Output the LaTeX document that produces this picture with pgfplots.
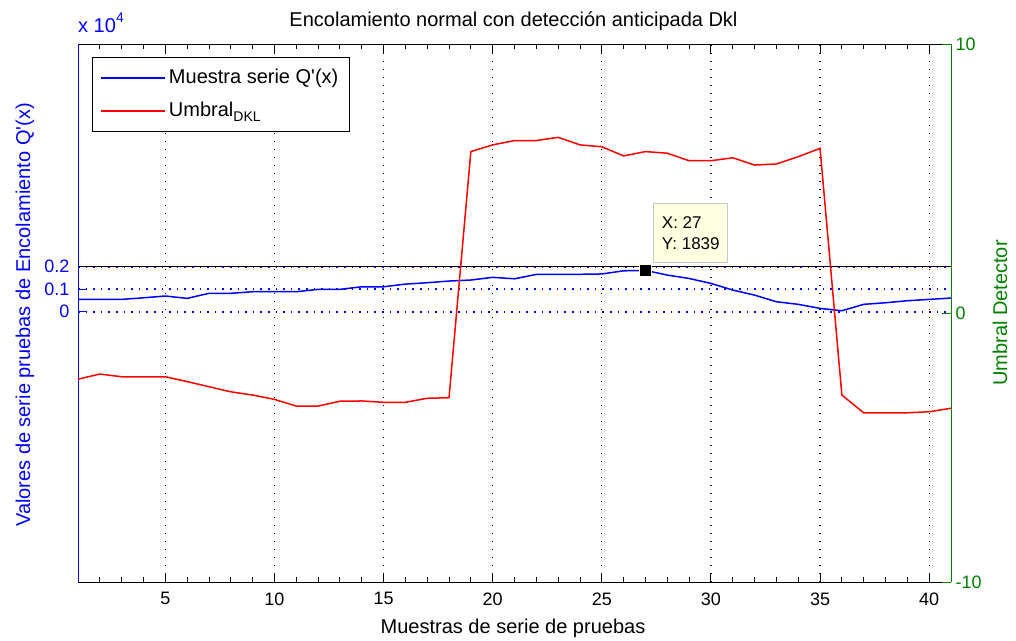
\documentclass[border=0pt]{standalone}
\usepackage{pgfplots}
\pgfplotsset{compat=1.18}
\usepackage{fontspec}
\setmainfont{Liberation Sans}[Ligatures=TeXOff]
\definecolor{mgreen}{RGB}{0,128,0}
\definecolor{tipfill}{RGB}{255,255,225}
\definecolor{tipdraw}{RGB}{200,200,200}
\pgfplotstableread{
x q
1 550
2 550
3 550
4 620
5 700
6 595
7 820
8 820
9 890
10 890
11 890
12 995
13 995
14 1110
15 1110
16 1230
17 1290
18 1365
19 1410
20 1530
21 1465
22 1660
23 1660
24 1665
25 1680
26 1820
27 1839
28 1630
29 1480
30 1260
31 965
32 740
33 445
34 330
35 150
36 45
37 330
38 400
39 490
40 550
41 610
}\qdata
\pgfplotstableread{
x u
1 -2.46
2 -2.27
3 -2.37
4 -2.37
5 -2.37
6 -2.55
7 -2.74
8 -2.93
9 -3.05
10 -3.21
11 -3.46
12 -3.46
13 -3.28
14 -3.27
15 -3.32
16 -3.32
17 -3.17
18 -3.15
19 6.00
20 6.25
21 6.41
22 6.41
23 6.53
24 6.25
25 6.18
26 5.84
27 6.00
28 5.94
29 5.66
30 5.66
31 5.77
32 5.50
33 5.54
34 5.81
35 6.12
36 -3.05
37 -3.71
38 -3.71
39 -3.71
40 -3.67
41 -3.54
}\udata
\begin{document}
\begin{tikzpicture}[x=1pt,y=1pt]
\useasboundingbox (0,0) rectangle (1016,640);
\begin{axis}[
  at={(78pt,58pt)}, anchor=south west,
  scale only axis, width=873pt, height=538pt,
  xmin=1, xmax=41, ymin=-12010, ymax=11900,
  scaled y ticks=false, scaled x ticks=false,
  axis x line*=box, axis y line*=left,
  x axis line style={black, line width=0.9pt},
  y axis line style={blue, line width=0.9pt},
  tick align=inside,
  xtick={5,10,...,40}, minor xtick={1,...,41},
  major tick length=9pt, minor tick length=5pt,
  ytick={0,1000,2000}, yticklabels={0,0.1,0.2},
  yticklabel style={text=blue, xshift=-5pt},
  xticklabel style={yshift=-7pt},
  y tick style={blue, line width=0.9pt},
  x tick style={black, line width=0.9pt},
  xmajorgrids, ymajorgrids,
  x grid style={black, line width=1.3pt, dash pattern=on 1.3pt off 6.7pt},
  y grid style={blue, line width=1.6pt, dash pattern=on 1.6pt off 6pt},
  tick label style={font=\fontsize{18}{21}\selectfont},
  /pgf/number format/assume math mode=true,
]
\addplot[black, line width=1.2pt] coordinates {(1,2000) (41,2000)};
\addplot[blue, line width=1.5pt] table[x=x, y=q] {\qdata};
\addplot[only marks, mark=square*, mark size=6pt, mark options={fill=black, draw=tipfill, line width=1pt}] coordinates {(27,1839)};
\node[draw=tipdraw, line width=1pt, fill=tipfill, anchor=south west, align=left,
      font=\fontsize{17}{21}\selectfont, inner xsep=8pt, inner ysep=13pt,
      xshift=8pt, yshift=7pt] at (axis cs:27,1839) {X: 27\\Y: 1839};
\end{axis}
\begin{axis}[
  at={(78pt,58pt)}, anchor=south west,
  scale only axis, width=873pt, height=538pt,
  xmin=1, xmax=41, ymin=-10, ymax=10,
  axis x line=none, axis y line*=right,
  y axis line style={mgreen, line width=0.9pt},
  tick align=inside, major tick length=9pt,
  ytick={-10,0,10}, yticklabels={-10,0,10},
  yticklabel style={text=mgreen, xshift=1pt},
  y tick style={mgreen, line width=0.9pt},
  tick label style={font=\fontsize{18}{21}\selectfont},
  legend cell align=left,
  legend image code/.code={\draw[#1] (0pt,0pt) -- (64pt,0pt);},
  legend style={at={(0.016,0.976)}, anchor=north west, draw=black, fill=white,
    line width=1pt, font=\fontsize{20}{24}\selectfont,
    inner xsep=8pt, inner ysep=9pt, row sep=10pt,
    nodes={inner sep=3pt, text depth=0.25em}},
]
\addlegendimage{blue, line width=1.5pt}
\addlegendentry{Muestra serie Q'(x)}
\addplot[red, line width=1.5pt] table[x=x, y=u] {\udata};
\addlegendentry{Umbral\raisebox{-0.45ex}{\fontsize{14}{14}\selectfont DKL}}
\end{axis}
\node[anchor=base, font=\fontsize{20}{24}\selectfont] at (513.5,613) {Encolamiento normal con detección anticipada Dkl};
\node[anchor=base, font=\fontsize{20}{24}\selectfont] at (513,7) {Muestras de serie de pruebas};
\node[anchor=base, rotate=90, text=blue, font=\fontsize{20}{24}\selectfont] at (30,325) {Valores de serie pruebas de Encolamiento Q'(x)};
\node[anchor=base, rotate=90, text=mgreen, font=\fontsize{20}{24}\selectfont] at (1007,327) {Umbral Detector};
\node[anchor=base west, inner sep=0pt, text=blue, font=\fontsize{20}{24}\selectfont] at (78,607) {x 10\raisebox{10pt}{\fontsize{14}{14}\selectfont 4}};
\end{tikzpicture}
\end{document}
